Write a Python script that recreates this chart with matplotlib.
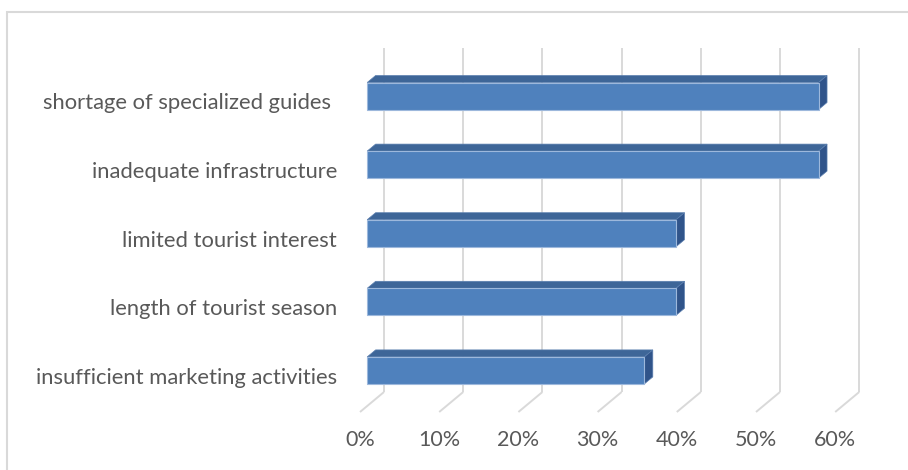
import matplotlib
matplotlib.use("Agg")
import matplotlib.pyplot as plt
from matplotlib.patches import Polygon, Rectangle

# survey results, top to bottom
categories = [
    "shortage of specialized guides ",
    "inadequate infrastructure",
    "limited tourist interest",
    "length of tourist season",
    "insufficient marketing activities",
]
values = [57, 57, 39, 39, 35]          # percent
ticks = [0, 10, 20, 30, 40, 50, 60]
tick_labels = [f"{t}%" for t in ticks]

W, H = 908, 470
PX_PER_PCT = 7.92      # front plane scale
X0_PX = 360            # 0% on the front plane
ROW_PX = 68.6          # distance between categories
Y0_PX = 102            # first category on the front plane

# pseudo-3d depth (whole floor) in data units
DX = 24 / PX_PER_PCT
DY = -20 / ROW_PX
FLOOR = (412 - Y0_PX) / ROW_PX
WALL_TOP = (48 - Y0_PX) / ROW_PX - DY
BAR_D0, BAR_D1 = 0.3, 0.65
BAR_HALF = 27 / ROW_PX / 2

FRONT = "#4F81BD"
TOP = "#3E6698"
SIDE = "#30548A"
GRID = "#D9D9D9"
TEXT = "#595959"

plt.rcParams["font.family"] = ["Lato", "DejaVu Sans"]

fig = plt.figure(figsize=(W / 100, H / 100), dpi=100)
ax = fig.add_axes([0, 0, 1, 1])
ax.set_xlim(-X0_PX / PX_PER_PCT, (W - X0_PX) / PX_PER_PCT)
ax.set_ylim((H - Y0_PX) / ROW_PX, -Y0_PX / ROW_PX)
ax.axis("off")

# chart frame
fig.patches.append(Rectangle((7 / W, -0.05), 1.0, (H - 12) / H + 0.05,
                             transform=fig.transFigure, fill=False,
                             edgecolor=GRID, lw=1.5))

# gridlines: floor diagonals + back wall verticals
for t in ticks:
    ax.plot([t, t + DX], [FLOOR, FLOOR + DY], color=GRID, lw=1.4,
            solid_capstyle="butt", zorder=1)
    ax.plot([t + DX, t + DX], [FLOOR + DY, WALL_TOP + DY], color=GRID, lw=1.4,
            solid_capstyle="butt", zorder=1)


def depth(x, y, d):
    return (x + DX * d, y + DY * d)


for i, v in enumerate(values):
    yt, yb = i - BAR_HALF, i + BAR_HALF
    top = [depth(0, yt, BAR_D0), depth(v, yt, BAR_D0),
           depth(v, yt, BAR_D1), depth(0, yt, BAR_D1)]
    side = [depth(v, yt, BAR_D0), depth(v, yb, BAR_D0),
            depth(v, yb, BAR_D1), depth(v, yt, BAR_D1)]
    front = [depth(0, yt, BAR_D0), depth(v, yt, BAR_D0),
             depth(v, yb, BAR_D0), depth(0, yb, BAR_D0)]
    ax.add_patch(Polygon(top, closed=True, facecolor=TOP, edgecolor="#5B7FAF",
                         lw=0.5, zorder=3))
    ax.add_patch(Polygon(side, closed=True, facecolor=SIDE, edgecolor="#5B7FAF",
                         lw=0.5, zorder=3))
    ax.add_patch(Polygon(front, closed=True, facecolor=FRONT, edgecolor="#9DB8DC",
                         lw=0.8, zorder=4))
    ax.text((337 - X0_PX) / PX_PER_PCT, i + 0.02, categories[i], ha="right",
            va="center", fontsize=15.8, color=TEXT)

for t, lab in zip(ticks, tick_labels):
    ax.text(t, (440 - Y0_PX) / ROW_PX, lab, ha="center", va="center",
            fontsize=15.5, color=TEXT)

fig.savefig("out.png", dpi=100)
